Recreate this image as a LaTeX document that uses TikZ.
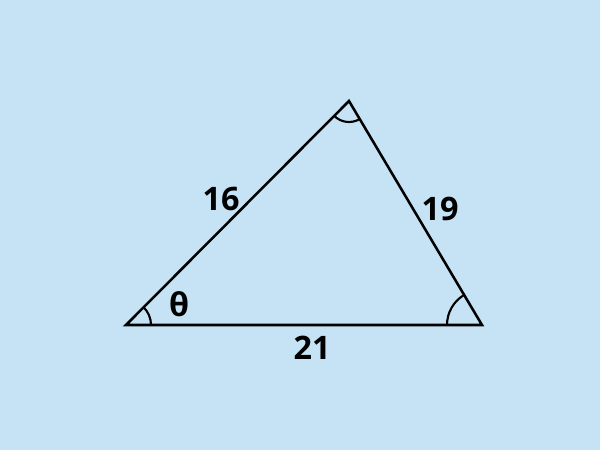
\documentclass[tikz,border=0pt]{standalone}
\usepackage{fontspec}
\setmainfont{Open Sans}
\definecolor{skyback}{RGB}{197,227,244}
\tikzset{
  side/.style={line width=1.8pt,line join=miter},
  anglemark/.style={line width=1.5pt},
  sidelabel/.style={font=\fontsize{23}{26}\selectfont\bfseries,inner sep=0pt}
}
\begin{document}
\begin{tikzpicture}[x=0.025cm,y=0.025cm]
            % Background and fixed bounding box
            \fill [skyback] (0,0) rectangle (600,450);
            \useasboundingbox (0,0) rectangle (600,450);

            % The corners of the triangle
            \coordinate (A) at (126,125);
            \coordinate (B) at (482,125);
            \coordinate (C) at (349,349);

            % The sides
            \draw [side] (A) -- (B) -- (C) -- cycle;

            % Angle marks at the three corners
            \draw [anglemark] (A) ++(0:25) arc [start angle=0,end angle=45.1,radius=25];
            \draw [anglemark] (B) ++(120.9:35) arc [start angle=120.9,end angle=180,radius=35];
            \draw [anglemark] (C) ++(225.1:21) arc [start angle=225.1,end angle=300.9,radius=21];

            % Side lengths and the angle
            \foreach \name/\pos/\lab in {
              lab16/{221,251}/16,
              lab21/{312,102}/21,
              lab19/{440,241}/19,
              labth/{179,146}/θ} {
              \node [sidelabel] (\name) at (\pos) {\lab};
            }
        \end{tikzpicture}
\end{document}
